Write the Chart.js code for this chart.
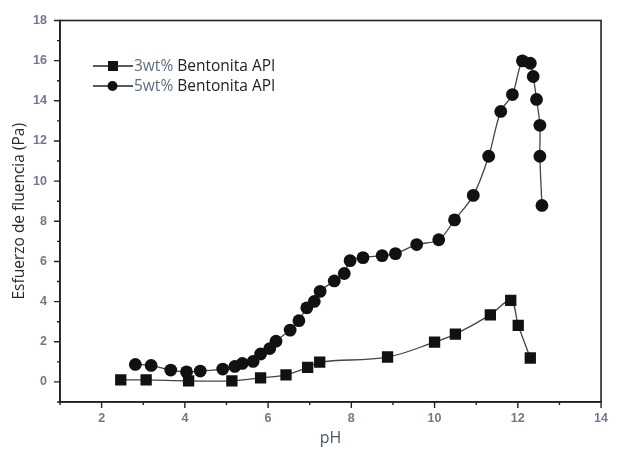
<!DOCTYPE html>
<html>
<head>
<meta charset="utf-8">
<script src="https://cdn.jsdelivr.net/npm/chart.js@4/dist/chart.umd.min.js"></script>
<style>
  html, body { margin: 0; padding: 0; background: #fff; }
</style>
</head>
<body>
<canvas id="myChart" width="617" height="454"></canvas>
<script>
// pH values and yield stress (Pa)
const labels = ['3wt% Bentonita API', '5wt% Bentonita API'];

const ph3 = [2.46, 3.07, 4.09, 5.13, 5.82, 6.43, 6.95, 7.24, 8.87, 10.00, 10.50, 11.34, 11.83, 12.01, 12.30];
const stress3 = [0.10, 0.10, 0.05, 0.05, 0.20, 0.35, 0.72, 0.99, 1.24, 1.98, 2.38, 3.34, 4.06, 2.82, 1.19];

const ph5 = [2.81, 3.19, 3.66, 4.04, 4.37, 4.91, 5.20, 5.38, 5.64, 5.82,
             6.04, 6.19, 6.53, 6.74, 6.93, 7.11, 7.25, 7.59, 7.83, 7.97,
             8.28, 8.74, 9.06, 9.57, 10.10, 10.48, 10.93, 11.30, 11.59, 11.87,
             12.11, 12.30, 12.37, 12.45, 12.53, 12.53, 12.58];
const stress5 = [0.87, 0.82, 0.59, 0.50, 0.54, 0.64, 0.77, 0.92, 1.02, 1.39,
                 1.66, 2.03, 2.58, 3.05, 3.69, 4.01, 4.51, 5.03, 5.40, 6.04,
                 6.19, 6.29, 6.39, 6.84, 7.08, 8.07, 9.29, 11.24, 13.47, 14.31,
                 15.99, 15.87, 15.21, 14.07, 12.78, 11.24, 8.79];

const xMin = 1, xMax = 14;
const yMin = -1, yMax = 18;

const toPoints = (xs, ys) => xs.map((x, i) => ({ x: x, y: ys[i] }));

const tickFont = { family: 'Liberation Sans', size: 12.5, weight: 'bold' };
const tickColor = '#73778a';

// frame, tick marks and the legend box
const framePlugin = {
  id: 'frame',
  afterDraw(chart) {
    const ctx = chart.ctx;
    const a = chart.chartArea;
    const xs = chart.scales.x, ys = chart.scales.y;
    ctx.save();
    ctx.strokeStyle = '#222';
    ctx.lineWidth = 1.6;
    ctx.strokeRect(a.left, a.top, a.right - a.left, a.bottom - a.top);

    ctx.lineWidth = 1.4;
    ctx.beginPath();
    xs.ticks.forEach(t => {
      const px = xs.getPixelForValue(t.value);
      const len = t.value % 2 === 0 ? 6 : 3;
      ctx.moveTo(px, a.bottom);
      ctx.lineTo(px, a.bottom + len);
    });
    ys.ticks.forEach(t => {
      const py = ys.getPixelForValue(t.value);
      const len = t.value % 2 === 0 ? 6 : 3;
      ctx.moveTo(a.left, py);
      ctx.lineTo(a.left - len, py);
    });
    ctx.stroke();

    // legend
    chart.data.datasets.forEach((ds, i) => {
      const y = a.top + 45.5 + i * 20;
      const x0 = a.left + 33;
      ctx.strokeStyle = '#222';
      ctx.lineWidth = 1.6;
      ctx.beginPath();
      ctx.moveTo(x0, y);
      ctx.lineTo(x0 + 40, y);
      ctx.stroke();
      ctx.fillStyle = '#111';
      if (ds.pointStyle === 'rect') {
        ctx.fillRect(x0 + 15, y - 5, 10, 10);
      } else {
        ctx.beginPath();
        ctx.arc(x0 + 19.5, y, 5, 0, Math.PI * 2);
        ctx.fill();
      }
      const parts = ds.label.split(' ');
      const first = parts.shift();
      ctx.font = '15.5px "Open Sans"';
      ctx.textBaseline = 'middle';
      ctx.fillStyle = '#5d6b86';
      ctx.fillText(first, x0 + 41, y + 1);
      const w = ctx.measureText(first + ' ').width;
      ctx.fillStyle = '#222';
      ctx.fillText(parts.join(' '), x0 + 41 + w, y + 1);
    });
    ctx.restore();
  }
};

new Chart(document.getElementById('myChart'), {
  type: 'scatter',
  data: {
    datasets: [
      {
        label: labels[0],
        data: toPoints(ph3, stress3),
        showLine: true,
        tension: 0.35,
        borderColor: '#444',
        borderWidth: 1.3,
        pointStyle: 'rect',
        pointRadius: 8,
        pointBackgroundColor: '#111',
        pointBorderColor: '#111',
        pointBorderWidth: 0
      },
      {
        label: labels[1],
        data: toPoints(ph5, stress5),
        showLine: true,
        tension: 0.35,
        borderColor: '#444',
        borderWidth: 1.3,
        pointStyle: 'circle',
        pointRadius: 6.4,
        pointBackgroundColor: '#111',
        pointBorderColor: '#111',
        pointBorderWidth: 0
      }
    ]
  },
  options: {
    responsive: false,
    animation: false,
    layout: { padding: { top: 17, right: 8, left: 0, bottom: 0 } },
    plugins: {
      legend: { display: false },
      tooltip: { enabled: false }
    },
    scales: {
      x: {
        type: 'linear',
        min: xMin,
        max: xMax,
        afterFit: s => { s.height = 52; },
        grid: { display: false, drawTicks: false },
        border: { display: true, color: '#222', width: 1.6 },
        ticks: {
          stepSize: 1,
          autoSkip: false,
          maxRotation: 0,
          padding: 9,
          font: tickFont,
          color: tickColor,
          callback: v => (v % 2 === 0 ? v : '')
        },
        title: {
          display: true,
          text: 'pH',
          font: { family: 'Open Sans', size: 16 },
          color: '#4a5468',
          padding: { top: 0, bottom: 6 }
        }
      },
      y: {
        min: yMin,
        max: yMax,
        afterFit: s => { s.width = 60; },
        grid: { display: false, drawTicks: false },
        border: { display: true, color: '#222', width: 1.6 },
        ticks: {
          stepSize: 1,
          autoSkip: false,
          padding: 13,
          font: tickFont,
          color: tickColor,
          callback: v => (v % 2 === 0 ? v : '')
        },
        title: {
          display: true,
          text: 'Esfuerzo de fluencia (Pa)',
          font: { family: 'Open Sans', size: 15.5 },
          color: '#2b2b2b',
          padding: { top: 10, bottom: 0 }
        }
      }
    }
  },
  plugins: [framePlugin]
});
</script>
</body>
</html>
